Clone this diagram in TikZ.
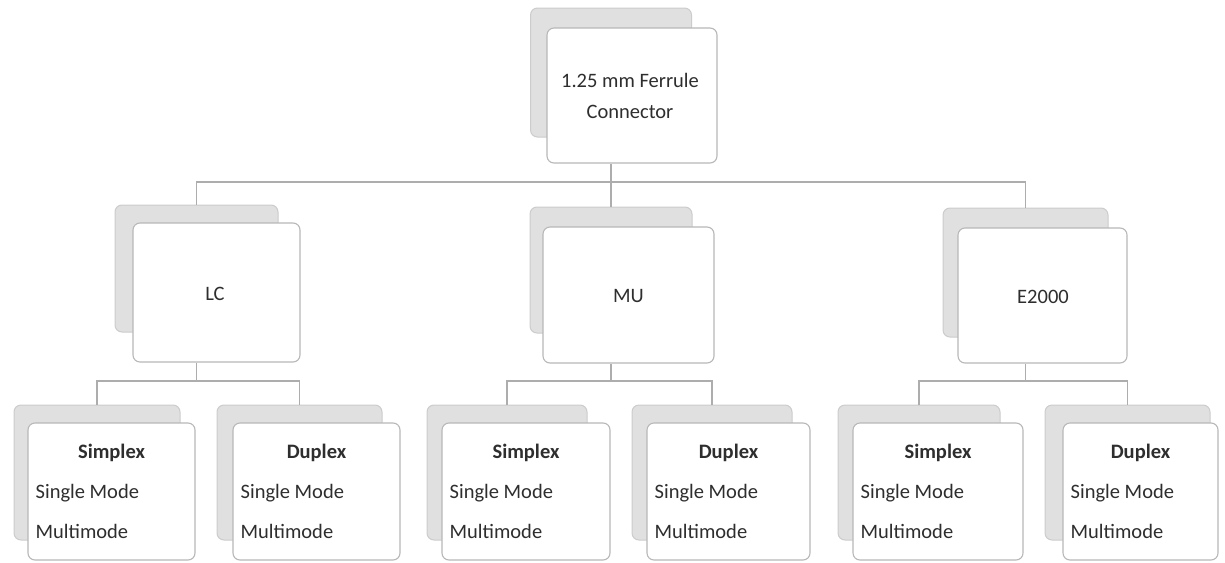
\documentclass[tikz,border=0pt]{standalone}
\usepackage{fontspec}
\setmainfont{Carlito}
\begin{document}
\begin{tikzpicture}[x=1pt,y=-1pt,
  backbox/.style={draw=black!20, fill=black!12, rounded corners=7pt, line width=1pt, inner sep=0pt},
  frontbox/.style={draw=black!28, fill=white, rounded corners=7pt, line width=1.1pt, inner sep=0pt},
  conn/.style={draw=black!32, line width=1.1pt},
  txt/.style={text=black!82, font=\fontsize{20.5}{24}\selectfont, inner sep=0pt},
  btxt/.style={txt, font=\fontsize{20.5}{24}\selectfont\bfseries},
]
\useasboundingbox (0,0) rectangle (1225,562);
\fill[white] (0,0) rectangle (1225,562);

% level 1
\node[backbox, minimum width=161pt, minimum height=129pt] (topb) at (611,72.5) {};
\node[frontbox, minimum width=170pt, minimum height=135pt] (top) at (632,95.5) {};
\node[txt, anchor=base] (toptx1) at (630,87) {1.25 mm Ferrule};
\node[txt, anchor=base] (toptx2) at (630,118) {Connector};

% level 2
\node[backbox, minimum width=163pt, minimum height=127pt] (lcb) at (196.5,268.5) {};
\node[frontbox, minimum width=167pt, minimum height=139pt] (lc) at (216.5,292.5) {};
\node[txt, anchor=base] (lctx) at (215,300) {LC};

\node[backbox, minimum width=162pt, minimum height=126pt] (mub) at (611,270) {};
\node[frontbox, minimum width=171pt, minimum height=136pt] (mu) at (628.5,295) {};
\node[txt, anchor=base] (mutx) at (628.5,302) {MU};

\node[backbox, minimum width=165pt, minimum height=129pt] (eb) at (1025.5,272.5) {};
\node[frontbox, minimum width=169pt, minimum height=135pt] (e) at (1042.5,295.5) {};
\node[txt, anchor=base] (etx) at (1043,303) {E2000};

% level 3
\foreach \nm/\bx/\bw/\fx/\fw/\ttl in {
   ls/97/166/111.5/167/Simplex,
   ld/299.5/165/316.5/167/Duplex,
   ms/507/160/526/168/Simplex,
   md/712/160/728.5/163/Duplex,
   es/919/162/938/170/Simplex,
   ed/1127.5/165/1140.5/155/Duplex}{
  \node[backbox, minimum width=\bw pt, minimum height=135pt] (\nm b) at (\bx,472.5) {};
  \node[frontbox, minimum width=\fw pt, minimum height=137pt] (\nm) at (\fx,491.5) {};
  \node[btxt, anchor=base] (\nm t) at (\fx,458) {\ttl};
  \node[txt, anchor=base west] (\nm s) at ([xshift=8pt]\nm.west |- 0,498) {Single Mode};
  \node[txt, anchor=base west] (\nm m) at ([xshift=8pt]\nm.west |- 0,538) {Multimode};
}

% connectors
\coordinate (bus0) at (0,182);
\coordinate (bus1) at (0,381);
\draw[conn] (topb |- top.south) -- (topb |- bus0) -| (lcb.north);
\draw[conn] (topb |- bus0) -| (mub.north);
\draw[conn] (topb |- bus0) -| (eb.north);

\draw[conn] (lcb |- lc.south) -- (lcb |- bus1) -| (lsb.north);
\draw[conn] (lcb |- bus1) -| (ldb.north);
\draw[conn] (mub |- mu.south) -- (mub |- bus1) -| (msb.north);
\draw[conn] (mub |- bus1) -| (mdb.north);
\draw[conn] (eb |- e.south) -- (eb |- bus1) -| (esb.north);
\draw[conn] (eb |- bus1) -| (edb.north);
\end{tikzpicture}
\end{document}
